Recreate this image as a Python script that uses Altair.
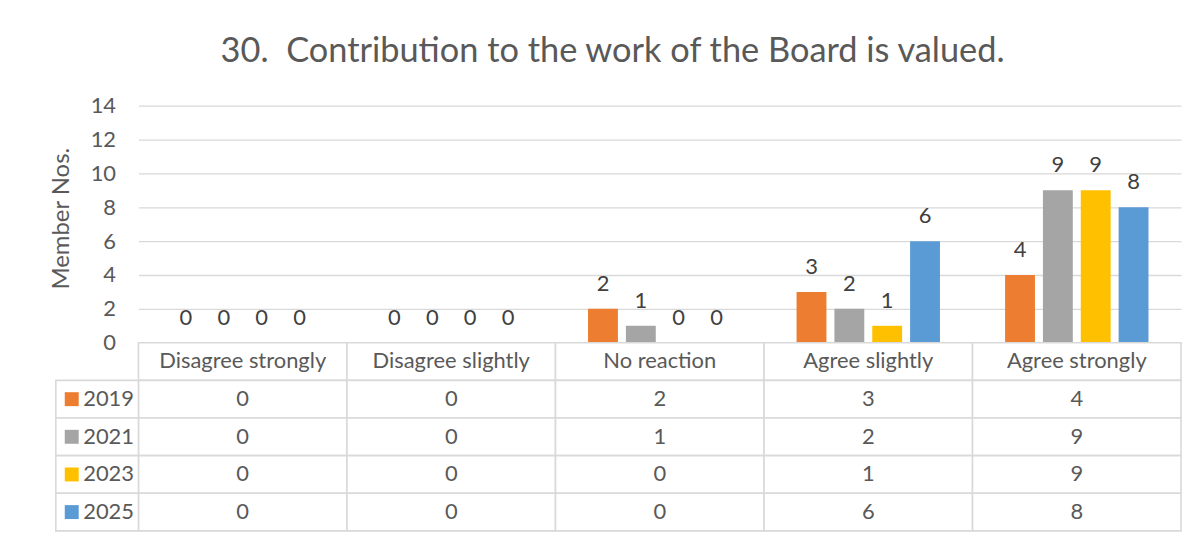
import altair as alt
import pandas as pd

categories = ["Disagree strongly", "Disagree slightly", "No reaction", "Agree slightly", "Agree strongly"]
years = ["2019", "2021", "2023", "2025"]
v2019 = [0, 0, 2, 3, 4]
v2021 = [0, 0, 1, 2, 9]
v2023 = [0, 0, 0, 1, 9]
v2025 = [0, 0, 0, 6, 8]
y_ticks = [0, 2, 4, 6, 8, 10, 12, 14]
colors = ["#ED7D31", "#A5A5A5", "#FFC000", "#5B9BD5"]
title_text = "30.\u00a0 Contribution to the work of the Board is valued."
y_title = "Member Nos."

FONT = "Lato"
TXT = "#595959"
GRID = "#D9D9D9"
FS = 22

series = dict(zip(years, [v2019, v2021, v2023, v2025]))
rows = []
for yr in years:
    for c, v in zip(categories, series[yr]):
        rows.append({"category": c, "year": yr, "value": v, "row": yr, "label": str(v)})
df = pd.DataFrame(rows)
header = pd.DataFrame({"category": categories, "row": ["header"] * len(categories), "label": categories})
table_df = pd.concat([header, df[["category", "row", "label"]]], ignore_index=True)
legend_df = pd.DataFrame({"row": years, "year": years, "col": ["L"] * len(years)})

row_order = ["header"] + years
xcat = alt.X("category:N", sort=categories,
             scale=alt.Scale(domain=categories, paddingInner=0, paddingOuter=0), axis=None)
color = alt.Color("year:N", scale=alt.Scale(domain=years, range=colors), legend=None)

W, H_TOP, H_TAB = 1047, 238, 189

base = alt.Chart(df).encode(
    x=xcat,
    xOffset=alt.XOffset("year:N", sort=years,
                        scale=alt.Scale(domain=years, paddingInner=0.21, paddingOuter=0.86)),
    y=alt.Y("value:Q", scale=alt.Scale(domain=[0, 14]),
            axis=alt.Axis(values=y_ticks, title=y_title, grid=True, gridColor=GRID, gridWidth=1.3,
                          domain=False, ticks=False, labelPadding=23, labelFont=FONT,
                          labelFontSize=FS, labelColor=TXT, titleFont=FONT, titleFontSize=24,
                          titleColor=TXT, titleFontWeight="normal", titlePadding=17, titleY=113)),
)
bars = base.mark_bar(size=30).encode(color=color)
labels = base.mark_text(dy=-18, baseline="alphabetic", font=FONT, fontSize=FS, color="#404040").encode(
    text="label:N")
top = alt.layer(bars, labels).properties(width=W, height=H_TOP)

yrow = alt.Y("row:N", sort=row_order, scale=alt.Scale(domain=row_order, paddingInner=0, paddingOuter=0),
             axis=None)
cells = alt.Chart(table_df).mark_rect(fill="white", stroke=GRID, strokeWidth=1.6).encode(x=xcat, y=yrow)
cell_text = alt.Chart(table_df).mark_text(font=FONT, fontSize=FS, color=TXT, baseline="middle").encode(
    x=xcat, y=yrow, text="label:N")

xleg = alt.X("col:N", scale=alt.Scale(domain=["L"], range=[-83, 0], paddingInner=0, paddingOuter=0),
             axis=None)
leg_cells = alt.Chart(legend_df).mark_rect(fill="white", stroke=GRID, strokeWidth=1.6).encode(x=xleg, y=yrow)
leg_sq = alt.Chart(legend_df).mark_square(size=196, opacity=1, xOffset=-25.5).encode(
    x=xleg, y=yrow, color=color)
leg_txt = alt.Chart(legend_df).mark_text(align="left", dx=-14, font=FONT, fontSize=FS, color=TXT,
                                         baseline="middle").encode(x=xleg, y=yrow, text="year:N")

bottom = alt.layer(cells, cell_text, leg_cells, leg_sq, leg_txt).resolve_scale(x="independent").properties(
    width=W, height=H_TAB)

chart = alt.vconcat(top, bottom, spacing=0, bounds="flush").properties(
    title=alt.TitleParams(title_text, font=FONT, fontSize=34.5, color=TXT, fontWeight="normal",
                          anchor="middle", offset=25, dx=-3),
    padding={"left": 41, "top": 25, "right": 10, "bottom": 5},
).configure_view(stroke=None)

chart.save("out.html", embed_options={"renderer": "svg", "actions": False})
